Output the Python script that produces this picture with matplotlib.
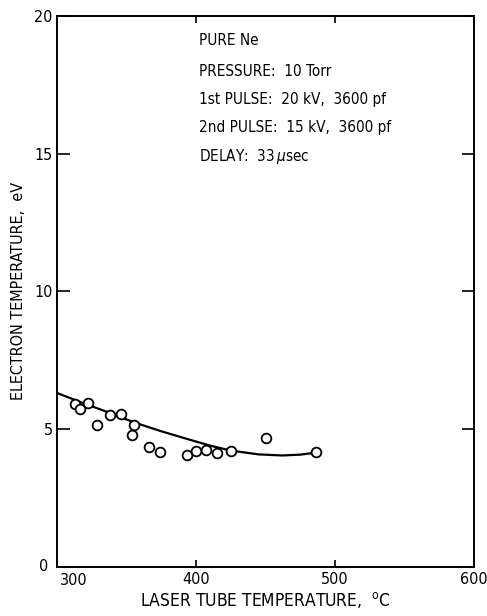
import numpy as np
from matplotlib import pyplot as plt

plt.rcParams['font.family'] = ['DejaVu Sans']
plt.rcParams['font.stretch'] = 'condensed'
plt.rcParams['mathtext.fontset'] = 'dejavusans'

# measured points (laser tube temperature, electron temperature)
temp = [312.8, 316.9, 322.5, 329.0, 338.0, 345.8, 355.7, 353.8, 365.9,
        374.3, 393.5, 400.0, 407.5, 415.0, 425.4, 450.6, 486.2]
te = [5.92, 5.71, 5.94, 5.16, 5.50, 5.53, 5.16, 4.77, 4.36,
      4.15, 4.06, 4.20, 4.25, 4.12, 4.22, 4.69, 4.17]

# fitted curve
curve_x = [300, 320, 340, 355, 375, 395, 410, 425, 445, 462, 475, 486]
curve_y = [6.31, 5.92, 5.55, 5.25, 4.92, 4.62, 4.40, 4.22, 4.08, 4.04, 4.07, 4.14]

notes = ['PURE Ne', 'PRESSURE:  10 Torr', '1st PULSE:  20 kV,  3600 pf',
         '2nd PULSE:  15 kV,  3600 pf', r'DELAY:  33$\,\mu$sec']

fig = plt.figure(figsize=(4.87, 6.16), dpi=100)
ax = fig.add_axes([0.117, 0.080, 0.856, 0.894])

ax.plot(curve_x, curve_y, color='black', lw=1.6)
ax.plot(temp, te, 'o', ms=7, mfc='white', mec='black', mew=1.3)

ax.set_xlim(300, 600)
ax.set_ylim(0, 20)
ax.set_xticks([300, 400, 500, 600])
ax.set_yticks([0, 5, 10, 15, 20])
ax.set_xticklabels(['', '400', '500', '600'])
ax.set_yticklabels(['', '5', '10', '15', '20'])
ax.tick_params(direction='in', top=True, right=True, labelsize=11.5, width=1.2)
ax.tick_params(axis='y', length=9, pad=3)
ax.tick_params(axis='x', length=5, pad=4)
for s in ax.spines.values():
    s.set_linewidth(1.4)

# corner labels
ax.text(-0.022, 0.0, '0', transform=ax.transAxes, ha='right', va='center', fontsize=11.5)
ax.text(0.04, -0.012, '300', transform=ax.transAxes, ha='center', va='top', fontsize=11.5)

ax.set_xlabel(r'LASER TUBE TEMPERATURE,  $^{\rm o}$C', fontsize=12.5, labelpad=2)
ax.set_ylabel('ELECTRON TEMPERATURE,  eV', fontsize=11.5, labelpad=6)

ytext = [0.955, 0.900, 0.848, 0.797, 0.744]
for t, yy in zip(notes, ytext):
    ax.text(0.34, yy, t, transform=ax.transAxes, fontsize=11, va='center')

fig.savefig('out.png', dpi=100)
